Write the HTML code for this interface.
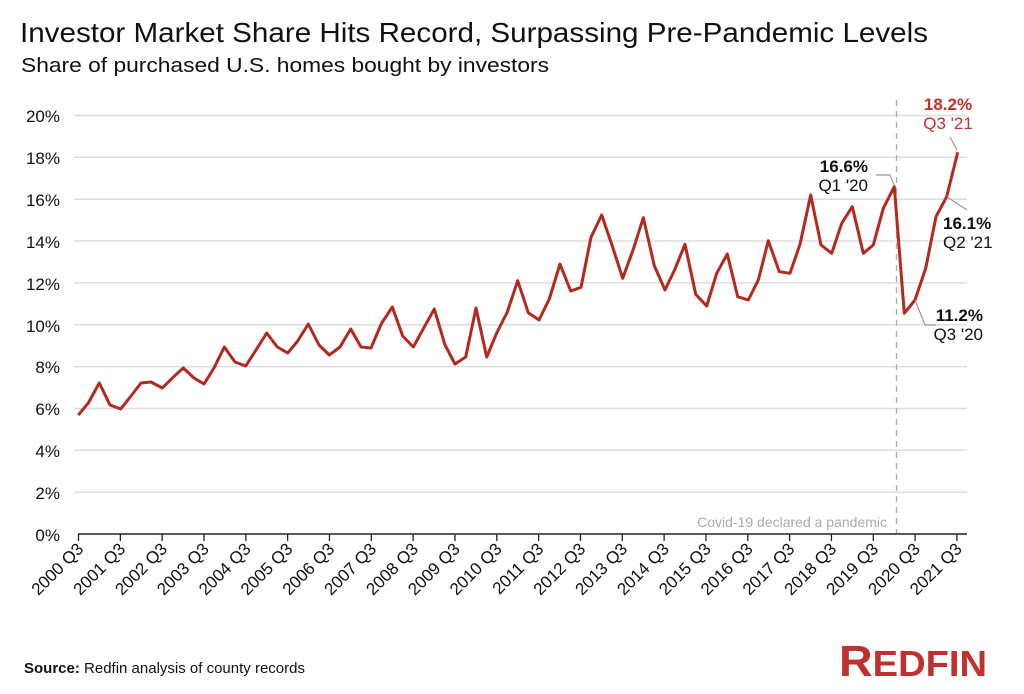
<!DOCTYPE html>
<html><head><meta charset="utf-8"><style>
html,body{margin:0;padding:0;background:#fff;}
svg{display:block;font-family:"Liberation Sans",sans-serif;}
</style></head><body>
<svg width="1024" height="694" viewBox="0 0 1024 694" xmlns="http://www.w3.org/2000/svg">
<text x="20" y="42" font-size="28" fill="#111" textLength="908" lengthAdjust="spacingAndGlyphs">Investor Market Share Hits Record, Surpassing Pre-Pandemic Levels</text>
<text x="21" y="72" font-size="20" fill="#111" textLength="528" lengthAdjust="spacingAndGlyphs">Share of purchased U.S. homes bought by investors</text>
<g stroke="#ddd" stroke-width="1.5">
<line x1="74" x2="967" y1="115.5" y2="115.5"/><line x1="74" x2="967" y1="157.3" y2="157.3"/>
<line x1="74" x2="967" y1="199.2" y2="199.2"/><line x1="74" x2="967" y1="241" y2="241"/>
<line x1="74" x2="967" y1="282.9" y2="282.9"/><line x1="74" x2="967" y1="324.8" y2="324.8"/>
<line x1="74" x2="967" y1="366.6" y2="366.6"/><line x1="74" x2="967" y1="408.5" y2="408.5"/>
<line x1="74" x2="967" y1="450.3" y2="450.3"/><line x1="74" x2="967" y1="492.2" y2="492.2"/>
</g>
<g font-size="17" fill="#111" text-anchor="end">
<text x="60" y="122">20%</text><text x="60" y="164">18%</text><text x="60" y="206">16%</text>
<text x="60" y="248">14%</text><text x="60" y="290">12%</text><text x="60" y="332">10%</text>
<text x="60" y="373">8%</text><text x="60" y="415">6%</text><text x="60" y="457">4%</text>
<text x="60" y="499">2%</text><text x="60" y="541">0%</text>
</g>
<line x1="896.5" x2="896.5" y1="100" y2="534" stroke="#aaa" stroke-width="1.3" stroke-dasharray="6,5"/>
<text x="887" y="527" font-size="14" fill="#aaa" text-anchor="end">Covid-19 declared a pandemic</text>
<line x1="78" x2="967" y1="534" y2="534" stroke="#222" stroke-width="1.5"/>
<g stroke="#222" stroke-width="1.3" id="ticks"></g>
<g id="xl" font-size="17" fill="#111" text-anchor="end"></g>
<polyline fill="none" stroke="#b5281f" stroke-width="3" stroke-linejoin="round" points="78.3,415 88.3,403 99.3,383 110,405 120.7,409 131,396 141,383 151,382 162.3,388 173.3,377 183.3,368 194,378 204,384 214,368 224.3,347 235,362 245.7,366 256,350 266.7,333 277.3,347 287.7,353 297.7,341 308.3,324 319,345 329.3,355 340,347 350.7,329 361,347 371,348 381.7,323 392.3,307 402.7,336 413.3,347 424.3,327 434.3,309 445,345 455,364 465.7,357 476,308 486.7,357 496.7,333 507.3,312 517.7,280.7 528.3,312.7 539,320 549.3,299 560,264 570.7,291 581,287.3 591,237.3 601.7,215 612.3,246 622.7,278.3 633.3,249.3 643.3,217.7 654.3,265.7 665,290 675,269 685,244.3 695.7,294.3 706.7,306 716.7,273.3 727.3,254 737.7,296.7 748.3,300 758.3,280 768.3,240.7 779.3,271.7 790,273.3 800,244.3 810.7,195 821,245 831.7,253.3 841.7,223.3 852.3,206.7 863.3,253.3 873.3,245 883.3,208.3 894.3,186.7 904.3,313.3 915,300 925.7,268.3 936,216.7 946.7,196.7 957.7,152.3"/>
<g stroke="#999" stroke-width="1.2" fill="none">
<polyline points="876,175 890,175 894,185"/>
<polyline points="950,137 957,150"/>
<polyline points="947,197 967,210"/>
<polyline points="915,300 925,325 936,325"/>
</g>
<g font-size="17">
<text x="948" y="110" text-anchor="middle" font-weight="bold" fill="#c0302e">18.2%</text>
<text x="948" y="129" text-anchor="middle" fill="#c0302e">Q3 '21</text>
<text x="868" y="172" text-anchor="end" font-weight="bold" fill="#111">16.6%</text>
<text x="868" y="191" text-anchor="end" fill="#111">Q1 '20</text>
<text x="943" y="229" font-weight="bold" fill="#111">16.1%</text>
<text x="943" y="248" fill="#111">Q2 '21</text>
<text x="983" y="321" text-anchor="end" font-weight="bold" fill="#111">11.2%</text>
<text x="983" y="340" text-anchor="end" fill="#111">Q3 '20</text>
</g>
<text x="24" y="673" font-size="15" fill="#111"><tspan font-weight="bold">Source:</tspan> Redfin analysis of county records</text>
<text x="839" y="676" font-weight="bold" fill="#c0302e" textLength="148" lengthAdjust="spacingAndGlyphs"><tspan font-size="44">R</tspan><tspan font-size="36">EDFIN</tspan></text>
<script>
var t=document.getElementById('ticks'),xl=document.getElementById('xl'),ns='http://www.w3.org/2000/svg';
for(var k=0;k<22;k++){var x=78.5+k*41.83;
var l=document.createElementNS(ns,'line');l.setAttribute('x1',x);l.setAttribute('x2',x);l.setAttribute('y1',534);l.setAttribute('y2',541);t.appendChild(l);
var s=document.createElementNS(ns,'text');s.setAttribute('transform','translate('+(x+6)+',550) rotate(-45)');s.textContent=(2000+k)+' Q3';xl.appendChild(s);}
</script>
</svg>
</body></html>
